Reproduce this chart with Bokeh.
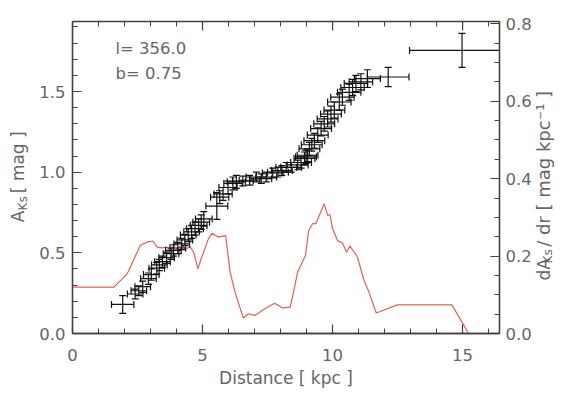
import pandas as pd
from math import pi
from bokeh.plotting import figure
from bokeh.layouts import row
from bokeh.models import (LinearAxis, Range1d, Label, ColumnDataSource,
                          FixedTicker, PrintfTickFormatter)
from bokeh.embed import file_html
from bokeh.resources import INLINE
from bokeh.core.properties import value

# ---- data ----
dist = [1.93, 2.41, 2.55, 2.70, 2.92, 3.03, 3.24, 3.34, 3.46, 3.62, 3.79, 3.88,
        4.05, 4.20, 4.32, 4.45, 4.58, 4.71, 4.85, 4.95, 5.05, 5.55, 5.66, 5.79,
        5.98, 6.17, 6.30, 6.55, 6.81, 7.07, 7.26, 7.45, 7.70, 7.90, 8.05, 8.22,
        8.41, 8.66, 8.79, 8.92, 8.98, 9.04, 9.11, 9.20, 9.30, 9.43, 9.56, 9.68,
        9.81, 9.94, 10.07, 10.26, 10.38, 10.64, 10.77, 10.90, 11.09, 11.34,
        12.14, 14.98]
aks = [0.18, 0.245, 0.265, 0.29, 0.34, 0.365, 0.405, 0.425, 0.445, 0.47, 0.495,
       0.515, 0.53, 0.555, 0.58, 0.61, 0.63, 0.65, 0.67, 0.69, 0.71, 0.79, 0.845,
       0.865, 0.905, 0.93, 0.94, 0.945, 0.95, 0.97, 0.96, 0.97, 0.995, 1.0, 1.01,
       1.03, 1.03, 1.045, 1.06, 1.085, 1.095, 1.105, 1.145, 1.17, 1.195, 1.23,
       1.27, 1.30, 1.33, 1.36, 1.385, 1.435, 1.465, 1.495, 1.525, 1.55, 1.56,
       1.58, 1.59, 1.755]
dist_err = [0.43, 0.30, 0.30, 0.30, 0.30, 0.30, 0.30, 0.30, 0.30, 0.30, 0.30, 0.30,
            0.30, 0.30, 0.30, 0.30, 0.30, 0.32, 0.32, 0.32, 0.32, 0.42, 0.35, 0.35,
            0.35, 0.35, 0.35, 0.40, 0.40, 0.40, 0.40, 0.40, 0.40, 0.40, 0.40, 0.40,
            0.40, 0.40, 0.40, 0.40, 0.40, 0.40, 0.40, 0.40, 0.40, 0.40, 0.40, 0.40,
            0.40, 0.40, 0.40, 0.45, 0.45, 0.45, 0.45, 0.45, 0.45, 0.50,
            0.80, 2.02]
aks_err = [0.055, 0.03, 0.03, 0.035, 0.035, 0.035, 0.035, 0.035, 0.035, 0.035,
           0.035, 0.035, 0.035, 0.035, 0.035, 0.04, 0.04, 0.04, 0.04, 0.045, 0.045,
           0.083, 0.04, 0.04, 0.04, 0.04, 0.04, 0.03, 0.03, 0.03, 0.03, 0.03, 0.03,
           0.03, 0.03, 0.03, 0.03, 0.03, 0.035, 0.04, 0.04, 0.04, 0.04, 0.04, 0.045,
           0.045, 0.045, 0.045, 0.05, 0.05, 0.05, 0.05, 0.05, 0.05, 0.05, 0.05,
           0.05, 0.055, 0.06, 0.105]

red_dist = [0.0, 1.6, 2.1, 2.61, 2.87, 3.09, 3.25, 3.44, 3.64, 3.83, 4.02, 4.21,
            4.34, 4.53, 4.66, 4.82, 4.97, 5.23, 5.36, 5.61, 5.89, 6.06, 6.25, 6.57,
            6.76, 7.02, 7.4, 7.77, 8.09, 8.37, 8.47, 8.66, 8.96, 9.08, 9.24, 9.36,
            9.49, 9.68, 9.81, 9.9, 10.0, 10.19, 10.38, 10.54, 10.67, 10.96, 11.21,
            11.4, 11.68, 12.49, 14.59, 15.23, 16.42]
red_dadr = [0.12, 0.12, 0.154, 0.228, 0.236, 0.239, 0.223, 0.221, 0.223, 0.21,
            0.219, 0.228, 0.219, 0.223, 0.21, 0.167, 0.197, 0.245, 0.259, 0.249,
            0.253, 0.159, 0.107, 0.04, 0.051, 0.047, 0.064, 0.078, 0.066, 0.068,
            0.098, 0.159, 0.202, 0.266, 0.284, 0.284, 0.305, 0.335, 0.305, 0.307,
            0.271, 0.24, 0.234, 0.21, 0.226, 0.197, 0.137, 0.107, 0.053, 0.074,
            0.074, 0.0, 0.0]

x_ticks = [0, 5, 10, 15]
x_minor = list(range(0, 17))
yl_ticks = [0.0, 0.5, 1.0, 1.5]
yl_minor = [0.0, 0.1, 0.2, 0.3, 0.4, 0.5, 0.6, 0.7, 0.8, 0.9, 1.0, 1.1, 1.2,
            1.3, 1.4, 1.5, 1.6, 1.7, 1.8, 1.9]
yr_ticks = [0.0, 0.2, 0.4, 0.6, 0.8]
yr_minor = [0.0, 0.05, 0.1, 0.15, 0.2, 0.25, 0.3, 0.35, 0.4, 0.45, 0.5, 0.55,
            0.6, 0.65, 0.7, 0.75, 0.8]

X_MAX = 16.42
YL_MAX = 1.934
YR_MAX = 0.806

TXT = "#666666"
AXC = "#404040"
PT = "#111111"
RED = "#e0605a"
FONT = "DejaVu Sans"
H = 398
B_TOP = 21
B_BOT = 65

p = figure(width=504, height=H, output_backend="svg", toolbar_location=None,
           x_range=Range1d(0, X_MAX), y_range=Range1d(0, YL_MAX),
           min_border_left=42, min_border_right=33, min_border_top=B_TOP,
           min_border_bottom=B_BOT, x_axis_label="Distance [ kpc ]")
p.extra_y_ranges = {"right": Range1d(0, YR_MAX)}
p.xgrid.visible = False
p.ygrid.visible = False
p.outline_line_color = AXC
p.outline_line_width = 1.3
p.background_fill_color = "white"
p.border_fill_color = "white"


def style(ax):
    ax.axis_line_color = AXC
    ax.axis_line_width = 1.3
    ax.major_tick_line_color = AXC
    ax.minor_tick_line_color = AXC
    ax.major_tick_line_width = 1.2
    ax.minor_tick_line_width = 1.0
    ax.major_tick_in = 9
    ax.major_tick_out = 0
    ax.minor_tick_in = 5
    ax.minor_tick_out = 0
    ax.major_label_text_font = FONT
    ax.major_label_text_font_size = "16.5px"
    ax.major_label_text_color = TXT
    ax.axis_label_text_font = FONT
    ax.axis_label_text_font_size = "17px"
    ax.axis_label_text_font_style = "normal"
    ax.axis_label_text_color = TXT


xa = p.xaxis[0]
xa.ticker = FixedTicker(ticks=x_ticks, minor_ticks=x_minor)
xa.formatter = PrintfTickFormatter(format="%d")
style(xa)
xa.major_label_standoff = 15
xa.axis_label_standoff = 4

ya = p.yaxis[0]
ya.ticker = FixedTicker(ticks=yl_ticks, minor_ticks=yl_minor)
ya.formatter = PrintfTickFormatter(format="%.1f")
style(ya)
ya.major_label_standoff = 7

ra = LinearAxis(y_range_name="right",
                ticker=FixedTicker(ticks=yr_ticks, minor_ticks=yr_minor),
                formatter=PrintfTickFormatter(format="%.1f"))
style(ra)
ra.major_label_standoff = 6
p.add_layout(ra, "right")

# top-edge ticks (mirror of the distance axis); half of each dash is clipped
p.scatter(x_ticks, [YL_MAX] * len(x_ticks), marker="dash", angle=pi / 2,
          size=18, line_color=AXC, line_width=1.2)
p.scatter(x_minor, [YL_MAX] * len(x_minor), marker="dash", angle=pi / 2,
          size=10, line_color=AXC, line_width=1.0)

# red derivative curve
p.line(red_dist, red_dadr, y_range_name="right", line_color=RED, line_width=1.2)

# error-bar points
df = pd.DataFrame(dict(x=dist, y=aks, xe=dist_err, ye=aks_err))
df["x0"] = df.x - df.xe
df["x1"] = df.x + df.xe
df["y0"] = df.y - df.ye
df["y1"] = df.y + df.ye
src = ColumnDataSource(df)
p.segment("x0", "y", "x1", "y", source=src, line_color=PT, line_width=1.2)
p.segment("x", "y0", "x", "y1", source=src, line_color=PT, line_width=1.2)
for col in ("x0", "x1"):
    p.scatter(col, "y", source=src, marker="dash", angle=pi / 2, size=7,
              line_color=PT, line_width=1.2)
for col in ("y0", "y1"):
    p.scatter("x", col, source=src, marker="dash", size=7,
              line_color=PT, line_width=1.2)

# annotation texts
for txt, yy in (("l= 356.0", 1.767), ("b= 0.75", 1.612)):
    p.add_layout(Label(x=1.65, y=yy, text=txt, text_font=FONT,
                       text_font_size="16.5px", text_color=TXT,
                       text_baseline="middle", text_align="left"))


def strip(width, items):
    # side strip with the same vertical frame as the main plot (left-axis units)
    s = figure(width=width, height=H, output_backend="svg", toolbar_location=None,
               x_range=Range1d(0, width), y_range=Range1d(0, YL_MAX),
               x_axis_location=None, y_axis_location=None,
               min_border_left=0, min_border_right=0,
               min_border_top=B_TOP, min_border_bottom=B_BOT)
    s.grid.visible = False
    s.outline_line_color = None
    s.border_fill_color = "white"
    s.background_fill_color = "white"
    for text, x, y, size in items:
        s.text([x], [y], text=[text], angle=pi / 2, text_font=value(FONT),
               text_font_size=size, text_color=TXT,
               text_baseline="middle", text_align="left")
    return s


left = strip(30, [("A", 17.5, 0.690, "17px"),
                  ("Ks", 22.0, 0.7626, "12px"),
                  (" [ mag ]", 17.5, 0.870, "17px")])
right = strip(36, [("dA", 9.0, 0.3286, "17px"),
                   ("Ks", 13.0, 0.434, "12px"),
                   (" / dr [ mag kpc\u207b\u00b9 ]", 9.0, 0.537, "18px")])

layout = row(left, p, right, spacing=0)
open("out.html", "w").write(file_html(layout, INLINE))
